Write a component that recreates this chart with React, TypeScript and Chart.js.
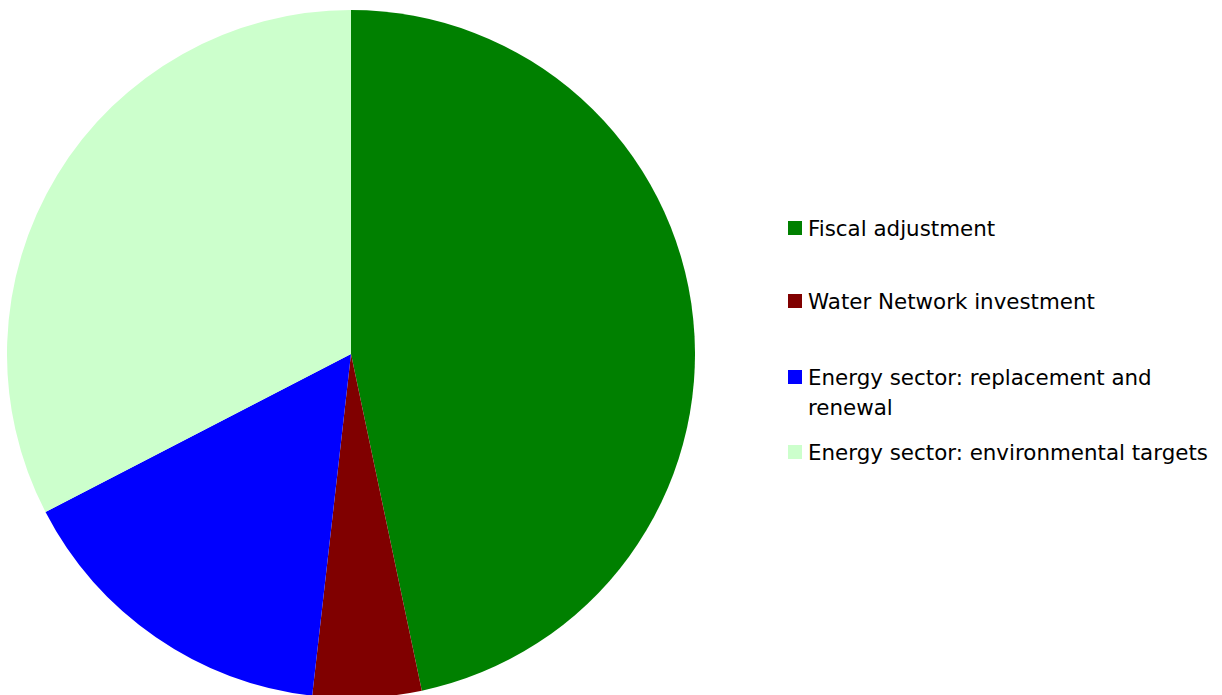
import React, { useEffect, useRef } from "react";
import { Chart, registerables } from "chart.js";

Chart.register(...registerables);

const categories = [
  "Fiscal adjustment",
  "Water Network investment",
  "Energy sector: replacement and renewal",
  "Energy sector: environmental targets",
];
const shares = [46.7, 5.1, 15.6, 32.6];
const colors = ["#008000", "#800000", "#0000FF", "#CCFFCC"];
const legendTops = [214, 287, 363, 438];

export default function App() {
  const ref = useRef<HTMLCanvasElement | null>(null);

  useEffect(() => {
    if (!ref.current) return;
    const chart = new Chart(ref.current, {
      type: "pie",
      data: {
        labels: categories,
        datasets: [
          {
            data: shares,
            backgroundColor: colors,
            borderWidth: 0,
          },
        ],
      },
      options: {
        responsive: false,
        maintainAspectRatio: false,
        animation: false,
        layout: { padding: 0 },
        plugins: {
          legend: { display: false },
          tooltip: { enabled: false },
        },
      },
    });
    return () => chart.destroy();
  }, []);

  return (
    <div
      style={{
        position: "fixed",
        left: 0,
        top: 0,
        width: 1222,
        height: 695,
        overflow: "hidden",
        background: "#fff",
        fontFamily: "'DejaVu Sans', sans-serif",
      }}
    >
      <canvas
        ref={ref}
        width={688}
        height={688}
        style={{ position: "absolute", left: 7, top: 10, width: 688, height: 688 }}
      />
      {categories.map((c, i) => (
        <div
          key={c}
          style={{
            position: "absolute",
            left: 788,
            top: legendTops[i],
            width: 432,
            fontSize: 21.4,
            lineHeight: "30px",
            color: "#000",
          }}
        >
          <span
            style={{
              position: "absolute",
              left: 0,
              top: 7,
              width: 14,
              height: 14,
              background: colors[i],
            }}
          />
          <div style={{ marginLeft: 20, width: 412 }}>{c}</div>
        </div>
      ))}
    </div>
  );
}
